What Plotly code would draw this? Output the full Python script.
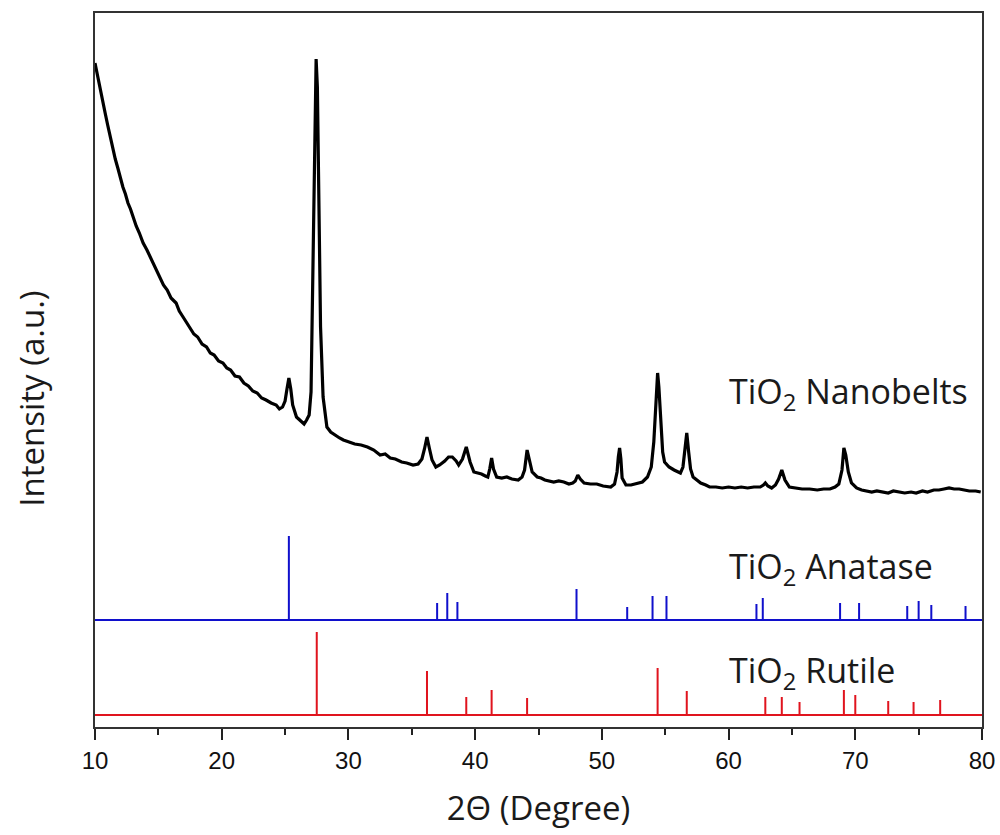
import plotly.graph_objects as go

# ---- Data ----
# TiO2 nanobelts XRD pattern: 2theta (degree) and intensity (a.u.)
nb_2theta = [10.0, 10.15, 10.3, 10.45, 10.6, 10.8, 11.0, 11.2, 11.4, 11.6, 11.8, 12.0, 12.2, 12.4,
             12.6, 12.8, 13.0, 13.25, 13.5, 13.8, 14.1, 14.35, 14.6, 14.85, 15.1, 15.4, 15.7, 16.0,
             16.4, 16.65, 16.9, 17.2, 17.5, 17.8, 18.1, 18.45, 18.8, 19.1, 19.4, 19.75, 20.1,
             20.4, 20.7, 21.05, 21.4, 21.75, 22.1, 22.45, 22.8, 23.15, 23.5, 23.9, 24.3, 24.55,
             24.8, 25.0, 25.15, 25.3, 25.45, 25.6, 25.9, 26.1, 26.3, 26.5, 26.7, 26.9, 27.05,
             27.2, 27.35, 27.45, 27.55, 27.65, 27.8, 28.0, 28.3, 28.6, 29.0, 29.3, 29.6, 30.0,
             30.5, 31.0, 31.5, 32.0, 32.5, 32.9, 33.3, 33.7, 34.2, 34.6, 35.1, 35.5, 35.8, 36.0,
             36.2, 36.4, 36.6, 36.9, 37.2, 37.6, 37.9, 38.2, 38.5, 38.7, 39.0, 39.3, 39.6, 39.9,
             40.2, 40.5, 40.8, 41.0, 41.15, 41.3, 41.45, 41.7, 42.1, 42.5, 42.9, 43.4, 43.7, 43.9,
             44.1, 44.3, 44.5, 44.9, 45.2, 45.5, 45.9, 46.2, 46.6, 47.0, 47.4, 47.7, 47.9, 48.1,
             48.3, 48.6, 49.1, 49.6, 50.1, 50.7, 51.0, 51.2, 51.3, 51.4, 51.5, 51.6, 51.9, 52.3,
             52.6, 52.9, 53.2, 53.6, 53.9, 54.1, 54.25, 54.4, 54.5, 54.65, 54.8, 54.95, 55.3,
             55.7, 56.0, 56.2, 56.4, 56.55, 56.7, 56.85, 57.0, 57.2, 57.5, 57.8, 58.2, 58.5,
             59.0, 59.5, 60.0, 60.5, 61.0, 61.5, 62.0, 62.5, 62.75, 62.9, 63.1, 63.4, 63.7,
             63.95, 64.2, 64.45, 64.8, 65.3, 65.8, 66.4, 67.0, 67.5, 68.0, 68.4, 68.7, 68.95,
             69.1, 69.25, 69.45, 69.7, 70.1, 70.5, 70.9, 71.3, 71.7, 72.1, 72.6, 73.0, 73.5,
             73.9, 74.4, 74.8, 75.3, 75.7, 76.2, 76.6, 77.0, 77.4, 77.8, 78.2, 78.6, 79.0,
             79.5, 79.9]
nb_intensity = [664, 654, 645, 634, 626, 614, 602, 590, 581, 568, 559, 549, 540, 533,
                524, 518, 510, 501, 494, 484, 477, 470, 463, 457, 450, 442, 437, 429,
                424, 416, 411, 405, 400, 393, 390, 383, 380, 374, 372, 366, 364,
                359, 357, 351, 350, 344, 341, 336, 334, 329, 327, 324, 322, 318,
                320, 326, 338, 349, 338, 322, 310, 308, 305, 303, 307, 312, 335,
                450, 600, 668, 640, 560, 400, 330, 300, 295, 291, 289, 287, 285,
                283, 282, 280, 277, 272, 273, 269, 268, 265, 264, 262, 263, 268, 278,
                290, 278, 267, 260, 262, 266, 270, 270, 266, 262, 268, 280, 265, 255,
                254, 253, 251, 250, 258, 269, 258, 250, 249, 250, 248, 247, 250, 257,
                277, 265, 255, 250, 249, 247, 246, 245, 246, 245, 243, 244, 246, 252,
                248, 244, 243, 243, 241, 240, 243, 255, 270, 279, 268, 249, 242, 242,
                243, 244, 245, 250, 260, 285, 320, 354, 340, 305, 275, 265, 260,
                257, 255, 254, 260, 275, 294, 275, 258, 250, 247, 244, 242, 240,
                240, 239, 240, 239, 240, 239, 240, 240, 242, 244, 241, 239, 242,
                248, 257, 247, 240, 239, 238, 238, 237, 238, 238, 240, 243, 257,
                279, 272, 255, 244, 239, 237, 236, 235, 236, 235, 234, 236, 235,
                234, 235, 234, 236, 235, 237, 237, 238, 239, 238, 238, 237, 236,
                236, 235]

# Anatase reference pattern (stick positions, heights above its baseline)
anatase_2theta = [25.3, 37.0, 37.8, 38.6, 48.0, 52.0, 54.0, 55.1, 62.2, 62.7, 68.8, 70.3,
                  74.1, 75.0, 76.0, 78.7]
anatase_height = [84, 17, 27, 18, 31, 13, 24, 24, 16, 22, 17, 17, 14, 19, 15, 14]
anatase_base = 107

# Rutile reference pattern
rutile_2theta = [27.5, 36.2, 39.3, 41.3, 44.1, 54.4, 56.7, 62.9, 64.2, 65.6, 69.1, 70.0,
                 72.6, 74.6, 76.7]
rutile_height = [83, 44, 18, 25, 17, 47, 24, 18, 18, 13, 25, 20, 14, 13, 15]
rutile_base = 12

x_ticks = [10, 20, 30, 40, 50, 60, 70, 80]
labels = ["TiO<sub>2</sub> Nanobelts", "TiO<sub>2</sub> Anatase", "TiO<sub>2</sub> Rutile"]
label_y = [334, 159, 55]


def stick_path(pos, heights, base, xmin=10, xmax=80):
    xs, ys = [xmin], [base]
    for p, h in zip(pos, heights):
        xs += [p, p, p]
        ys += [base, base + h, base]
    xs.append(xmax)
    ys.append(base)
    return xs, ys


fig = go.Figure()
fig.add_trace(go.Scatter(x=nb_2theta, y=nb_intensity, mode="lines",
                         line=dict(color="black", width=3.2), showlegend=False))
ax, ay = stick_path(anatase_2theta, anatase_height, anatase_base)
fig.add_trace(go.Scatter(x=ax, y=ay, mode="lines",
                         line=dict(color="#1010cc", width=2), showlegend=False))
rx, ry = stick_path(rutile_2theta, rutile_height, rutile_base)
fig.add_trace(go.Scatter(x=rx, y=ry, mode="lines",
                         line=dict(color="#e0141e", width=2), showlegend=False))

text_font = dict(family="Open Sans, Noto Sans, sans-serif", size=34, color="#1a1a1a")
for lab, yy in zip(labels, label_y):
    fig.add_annotation(x=59.9, y=yy, text=lab, showarrow=False, xanchor="left",
                       yanchor="middle", font=text_font)

fig.add_annotation(xref="paper", yref="paper", x=-0.072, y=0.46, text="Intensity (a.u.)",
                   textangle=-90, showarrow=False, xanchor="center", yanchor="middle",
                   font=dict(family="Open Sans, Noto Sans, sans-serif", size=33, color="#1a1a1a"))

fig.update_layout(
    width=1000, height=835,
    margin=dict(l=95, r=18, t=13, b=108, autoexpand=False),
    paper_bgcolor="white", plot_bgcolor="white",
    xaxis=dict(range=[10, 80], tickvals=x_ticks, ticktext=[str(t) for t in x_ticks],
               automargin=False,
               ticks="outside", ticklen=11, tickwidth=2, tickcolor="#222",
               minor=dict(dtick=5, ticks="outside", ticklen=6, tickwidth=2, tickcolor="#222"),
               showline=True, linecolor="#333", linewidth=2, mirror=True,
               showgrid=False, zeroline=False,
               tickfont=dict(family="Liberation Sans, Arial, sans-serif", size=24, color="#111"),
               title=dict(text="2\u0398 (Degree)", standoff=24,
                          font=dict(family="Open Sans, Noto Sans, sans-serif", size=33, color="#1a1a1a"))),
    yaxis=dict(range=[0, 714], showticklabels=False, ticks="", showgrid=False, zeroline=False,
               automargin=False,
               showline=True, linecolor="#333", linewidth=2, mirror=True),
)

fig.write_html("out.html")
